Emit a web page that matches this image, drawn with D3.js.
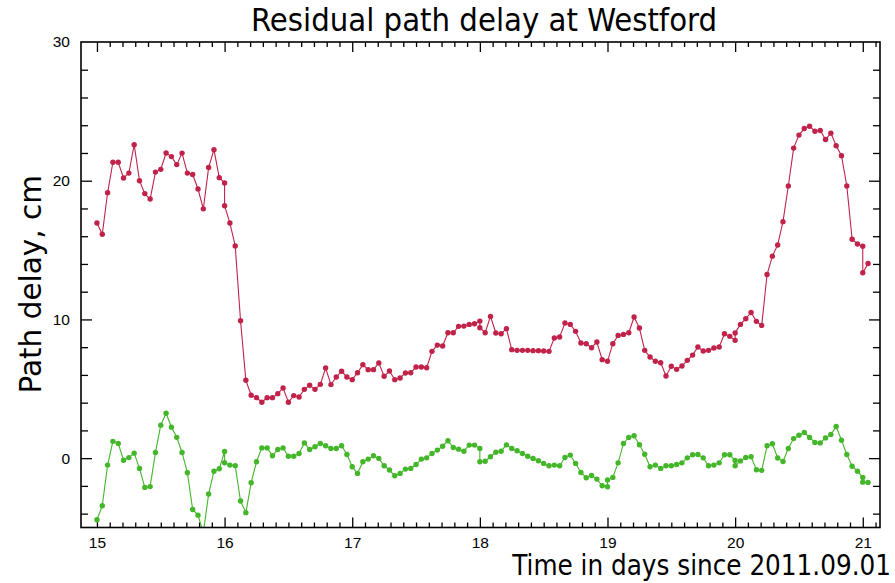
<!DOCTYPE html>
<html>
<head>
<meta charset="utf-8">
<script src="https://cdn.jsdelivr.net/npm/d3@7"></script>
<style>
  html, body { margin: 0; padding: 0; background: #fff; }
  svg { display: block; }
  .tick-label { font-family: "Liberation Sans", Arial, sans-serif; font-size: 15.5px; fill: #000; }
  .title-text { font-family: "DejaVu Sans", sans-serif; fill: #000; }
</style>
</head>
<body>
<svg id="chart" width="895" height="583"></svg>
<script>
// Hourly residual path delay (cm); each session starts at the given day
// and repeats its boundary epoch, which is why some days have two points.
const redStarts = [15, 16, 18, 20, 21];
const redDay15 = [16.95, 16.14, 19.13, 21.33, 21.33, 20.2, 20.55, 22.6, 20.0, 19.07, 18.68, 20.62, 20.82, 22.0, 21.74, 21.16, 21.99, 20.55, 20.45, 19.4, 17.97, 20.95, 22.24, 20.22, 19.84];
const redDay16 = [18.2, 16.95, 15.3, 9.9, 5.61, 4.53, 4.36, 4.03, 4.36, 4.36, 4.65, 5.06, 4.03, 4.51, 4.41, 4.96, 5.25, 4.96, 5.32, 6.5, 5.3, 5.85, 6.26, 5.85, 5.66,
  6.16, 6.74, 6.38, 6.38, 6.86, 5.9, 6.28, 5.66, 5.78, 6.14, 6.16, 6.57, 6.57, 6.52, 7.7, 8.15, 8.08, 9.04, 9.04, 9.5, 9.52, 9.64, 9.69, 9.88];
const redDay18 = [9.4, 9.04, 10.22, 9.02, 8.97, 9.33, 7.82, 7.77, 7.77, 7.77, 7.75, 7.75, 7.72, 7.7, 8.66, 8.73, 9.74, 9.64, 9.14, 8.3, 8.25, 7.96, 8.37, 7.1, 6.98,
  8.25, 8.85, 8.92, 9.04, 10.17, 9.38, 7.77, 7.29, 6.98, 6.88, 5.92, 6.62, 6.4, 6.64, 7.05, 7.43, 8.01, 7.72, 7.77, 7.94, 8.01, 8.97, 8.78, 8.49];
const redDay20 = [9.02, 9.64, 10.05, 10.5, 9.86, 9.57, 13.24, 14.56, 15.37, 17.05, 19.62, 22.35, 23.29, 23.76, 23.93, 23.57, 23.62, 22.97, 23.43, 22.52, 21.8, 19.62, 15.78, 15.44, 15.28];
const redDay21 = [13.36, 14.03];

const greenStarts = [15, 16, 18, 19, 20, 21];
const greenDay15 = [-4.44, -3.43, -0.5, 1.21, 1.06, -0.15, 0.04, 0.36, -0.74, -2.11, -2.05, 0.41, 2.38, 3.24, 2.23, 1.5, 0.41, -1.05, -3.7, -4.11, -5.4, -2.59, -0.94, -0.77, 0.48];
const greenDay16 = [-0.33, -0.5, -0.55, -3.09, -3.93, -1.77, -0.26, 0.74, 0.74, 0.17, 0.62, 0.74, 0.14, 0.14, 0.34, 1.1, 0.62, 0.82, 1.06, 0.89, 0.7, 0.7, 0.89, 0.26, -0.62,
  -1.1, -0.26, -0.07, 0.17, -0.02, -0.55, -0.86, -1.27, -1.1, -0.79, -0.74, -0.46, -0.07, 0.02, 0.34, 0.58, 0.86, 1.25, 0.77, 0.65, 0.5, 0.94, 0.94, 0.7];
const greenDay18 = [-0.26, -0.22, 0.1, 0.43, 0.5, 0.96, 0.7, 0.53, 0.34, 0.14, -0.02, -0.19, -0.38, -0.55, -0.5, -0.55, 0.05, 0.22, -0.38, -1.03, -1.41, -1.25, -1.51, -1.99, -2.06];
const greenDay19 = [-1.58, -1.39, -0.34, 1.06, 1.49, 1.61, 0.97, 0.28, -0.62, -0.5, -0.74, -0.55, -0.55, -0.46, -0.34, 0.02, 0.24, 0.26, 0.02, -0.55, -0.5, -0.34, 0.24, 0.24, -0.17];
const greenDay20 = [-0.55, -0.2, 0.05, 0.1, -0.84, -0.88, 0.89, 1.04, 0.01, -0.24, 0.7, 1.41, 1.65, 1.85, 1.49, 1.13, 1.1, 1.46, 1.7, 2.28, 1.29, 0.26, -0.58, -0.94, -1.39];
const greenDay21 = [-1.73, -1.75];

const xTickValues = [15, 16, 17, 18, 19, 20, 21];
const yTickValues = [0, 10, 20, 30];
const titleText = "Residual path delay at Westford";
const xLabelText = "Time in days since 2011.09.01";
const yLabelText = "Path delay, cm";

const HOUR = 1 / 24;
function toPoints(starts, sessions) {
  const pts = [];
  sessions.forEach((vals, s) => {
    vals.forEach((v, i) => pts.push({ t: starts[s] + i * HOUR, v }));
  });
  return pts;
}
const redPoints = toPoints(redStarts, [redDay15, redDay16, redDay18, redDay20, redDay21]);
const greenPoints = toPoints(greenStarts, [greenDay15, greenDay16, greenDay18, greenDay19, greenDay20, greenDay21]);

const plot = { left: 81, right: 880, top: 42, bottom: 527.5 };
const svg = d3.select("#chart");

const x = d3.scaleLinear().domain([14.875, 21.135]).range([plot.left, plot.right]);
const y = d3.scaleLinear().domain([-5, 30]).range([plot.bottom, plot.top]);

svg.append("defs").append("clipPath").attr("id", "plot-clip")
  .append("rect")
  .attr("x", plot.left).attr("y", plot.top)
  .attr("width", plot.right - plot.left).attr("height", plot.bottom - plot.top);

const xMinor = d3.range(150, 212).map(d => d / 10).filter(d => x(d) > plot.left + 1 && x(d) < plot.right - 1 && Math.abs(d - Math.round(d)) > 1e-6);
const yMinor = d3.range(-4, 30, 2).filter(d => d % 10 !== 0);

// Frame ticks: drawn inward on all four sides
function axisSet(axisFn, scale, values, size, transformStr) {
  const g = svg.append("g").attr("transform", transformStr);
  g.call(axisFn(scale).tickValues(values).tickSize(size).tickFormat(""));
  g.select(".domain").remove();
  g.selectAll(".tick line").attr("stroke", "#000").attr("stroke-width", 1.3);
  return g;
}
const yMajorInside = yTickValues.filter(d => d > -5 && d < 30);
axisSet(d3.axisTop, x, xTickValues, 10, `translate(0,${plot.bottom})`);
axisSet(d3.axisTop, x, xMinor, 5, `translate(0,${plot.bottom})`);
axisSet(d3.axisBottom, x, xTickValues, 10, `translate(0,${plot.top})`);
axisSet(d3.axisBottom, x, xMinor, 5, `translate(0,${plot.top})`);
axisSet(d3.axisRight, y, yMajorInside, 11, `translate(${plot.left},0)`);
axisSet(d3.axisRight, y, yMinor, 7, `translate(${plot.left},0)`);
axisSet(d3.axisLeft, y, yMajorInside, 11, `translate(${plot.right},0)`);
axisSet(d3.axisLeft, y, yMinor, 7, `translate(${plot.right},0)`);

// Tick labels
const xLab = svg.append("g").attr("transform", `translate(0,${plot.bottom})`)
  .call(d3.axisBottom(x).tickValues(xTickValues).tickSize(0).tickPadding(9).tickFormat(d3.format("d")));
xLab.select(".domain").remove();
xLab.selectAll("text").attr("class", "tick-label").attr("font-family", null).attr("font-size", null);

const yLab = svg.append("g").attr("transform", `translate(${plot.left},0)`)
  .call(d3.axisLeft(y).tickValues(yTickValues).tickSize(0).tickPadding(11).tickFormat(d3.format("d")));
yLab.select(".domain").remove();
yLab.selectAll("text").attr("class", "tick-label").attr("font-family", null).attr("font-size", null);

// Series
const line = d3.line().x(d => x(d.t)).y(d => y(d.v));
const series = [
  { pts: redPoints, color: "#c0224a" },
  { pts: greenPoints, color: "#43b62a" }
];
const plotG = svg.append("g").attr("clip-path", "url(#plot-clip)");
series.forEach(s => {
  plotG.append("path").datum(s.pts)
    .attr("fill", "none").attr("stroke", s.color).attr("stroke-width", 1.1)
    .attr("d", line);
  plotG.selectAll(null).data(s.pts).enter().append("circle")
    .attr("cx", d => x(d.t)).attr("cy", d => y(d.v)).attr("r", 2.7)
    .attr("fill", s.color);
});

// Frame
svg.append("rect")
  .attr("x", plot.left).attr("y", plot.top)
  .attr("width", plot.right - plot.left).attr("height", plot.bottom - plot.top)
  .attr("fill", "none").attr("stroke", "#000").attr("stroke-width", 1.6);

// Titles
svg.append("text").attr("class", "title-text")
  .attr("x", 484).attr("y", 31).attr("text-anchor", "middle")
  .style("font-size", "32.5px").style("font-stretch", "condensed")
  .text(titleText);
svg.append("text").attr("class", "title-text")
  .attr("x", 891).attr("y", 575).attr("text-anchor", "end")
  .style("font-size", "27.5px").style("font-stretch", "condensed")
  .text(xLabelText);
svg.append("text").attr("class", "title-text")
  .attr("transform", `translate(41,${(plot.top + plot.bottom) / 2 - 0.5}) rotate(-90)`)
  .attr("text-anchor", "middle")
  .style("font-size", "29.5px")
  .text(yLabelText);
</script>
</body>
</html>
